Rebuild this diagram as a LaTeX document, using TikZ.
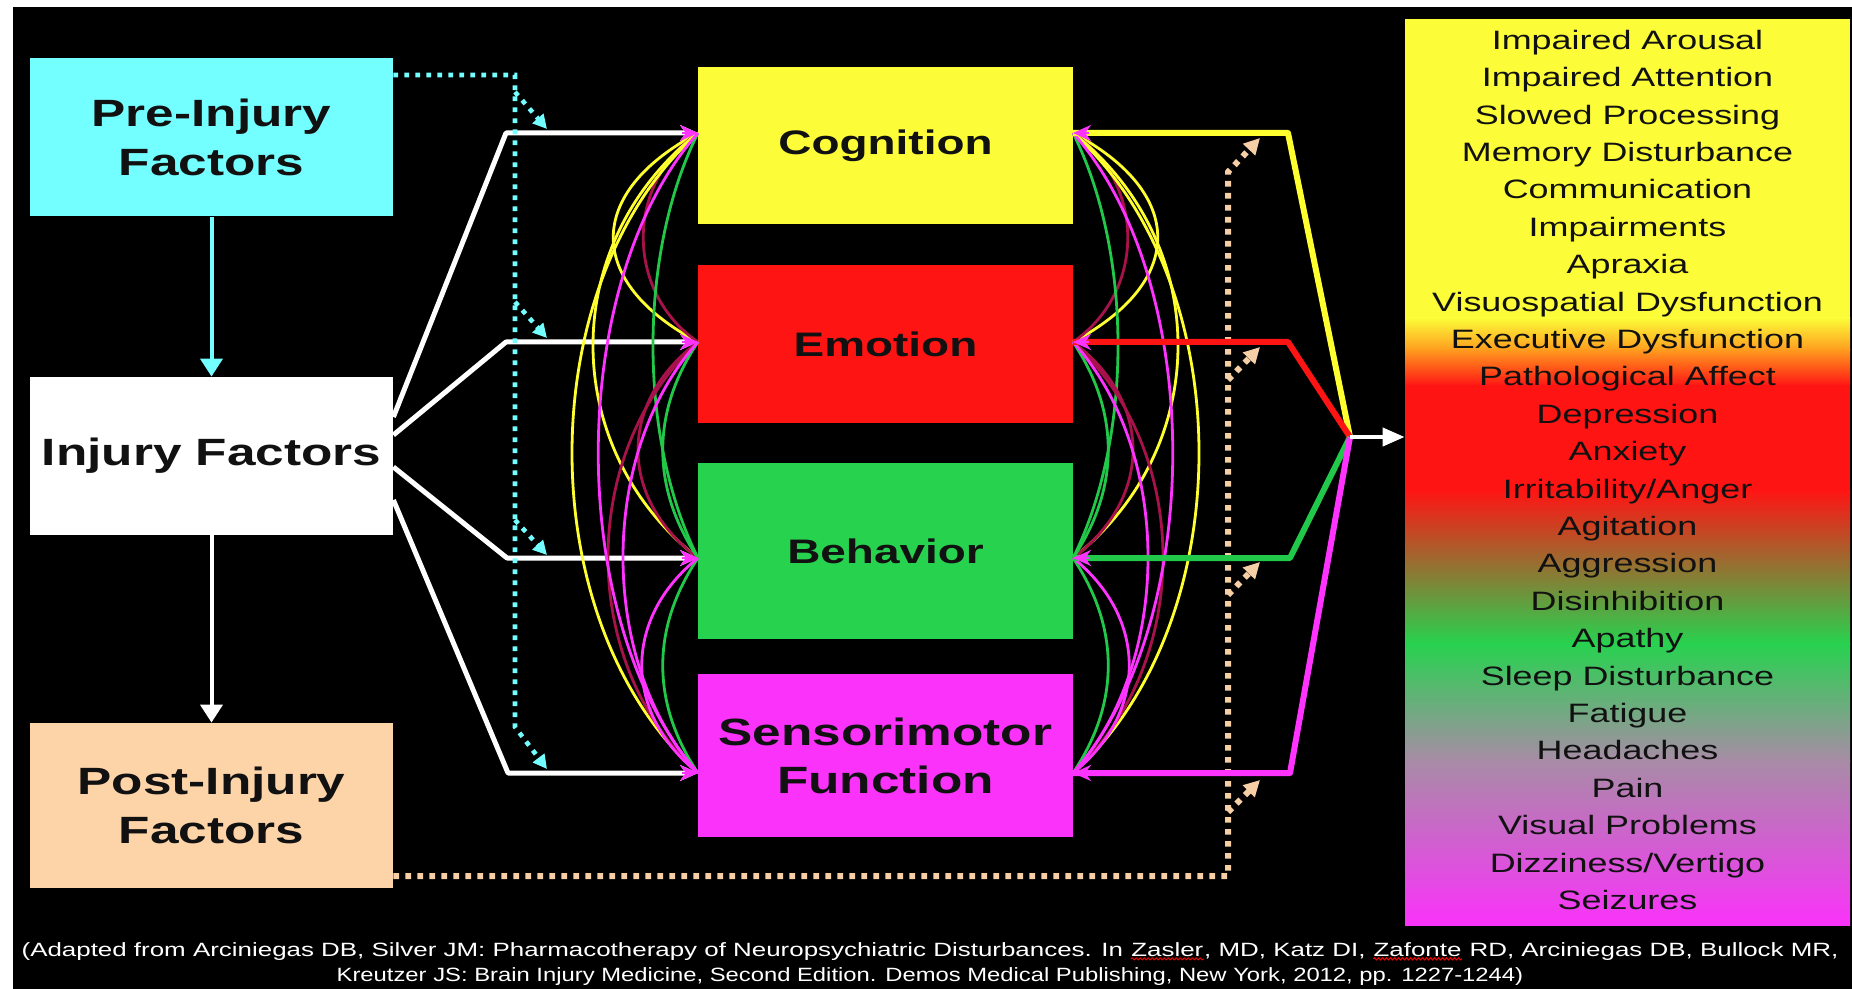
\documentclass[tikz,border=0pt]{standalone}
\usepackage{fontspec}
\usetikzlibrary{arrows.meta,calc,decorations.pathmorphing}
\newfontfamily\wfont{Liberation Sans}[FakeStretch=1.35]
\newfontfamily\wfontb{Liberation Sans}[FakeStretch=1.24]
\definecolor{cbox}{HTML}{73FEFF}
\definecolor{ybox}{HTML}{FCFC38}
\definecolor{rbox}{HTML}{FF1414}
\definecolor{gbox}{HTML}{27D24F}
\definecolor{mbox}{HTML}{FA32FA}
\definecolor{pbox}{HTML}{FDD3A8}
\definecolor{pline}{HTML}{F6CFA6}
\definecolor{cyl}{HTML}{FFFF30}
\definecolor{cgr}{HTML}{22C84A}
\definecolor{cmr}{HTML}{A8124A}
\definecolor{cmg}{HTML}{FF33FF}
\definecolor{txt}{HTML}{111111}
\definecolor{orng}{HTML}{FF9A1E}
\definecolor{mauve}{HTML}{A88CA6}
\newcommand\squig[1]{\tikz[baseline=(sqw.base)]{\node[inner sep=0pt, text=white] (sqw) {#1}; \draw[red, line width=0.5pt, decorate, decoration={snake, amplitude=0.5pt, segment length=2pt}] ([yshift=-1.2pt]sqw.base west) -- ([yshift=-1.2pt]sqw.base east);}}
\begin{document}
\begin{tikzpicture}[x=0.5pt,y=-0.5pt,
  box/.style={rectangle, inner sep=0pt, align=center, text=txt},
  bigf/.style={font=\wfont\bfseries\fontsize{19pt}{24.5pt}\selectfont},
  midf/.style={font=\wfont\bfseries\fontsize{17pt}{22pt}\selectfont},
  lbox/.style={box, bigf, minimum width=181.5pt},
  mbox/.style={box, minimum width=187.5pt},
  wl/.style={white, line width=2.5pt, line join=round, -{Stealth[length=9pt,width=8pt]}},
  cyd/.style={cbox, line width=2.3pt, dash pattern=on 2.4pt off 3.1pt, -{Triangle[length=7pt,width=7pt]}},
  pd/.style={pline, line width=3pt, dash pattern=on 2.8pt off 3.2pt, -{Triangle[length=8pt,width=8pt]}},
  cv/.style={line width=1.4pt},
  outl/.style={line width=3pt, line join=round},
  tipm/.style={cmg, line width=1.4pt, -{Stealth[length=9pt,width=8pt]}},
  symf/.style={font=\wfont\fontsize{13.3pt}{16pt}\selectfont, text=txt, anchor=base, inner sep=0pt}
]
\useasboundingbox (0,0) rectangle (1852,989);
\fill[white] (0,0) rectangle (1852,989);
\fill[black] (13,7) rectangle (1852,989);

% left boxes
\node[lbox, fill=cbox, minimum height=79pt] (pre) at (211.5,137.5) {Pre-Injury\\Factors};
\node[lbox, fill=white, minimum height=79pt] (inj) at (211.5,456) {Injury Factors};
\node[lbox, fill=pbox, minimum height=82.5pt] (post) at (211.5,805.5) {Post-Injury\\Factors};

% middle boxes
\node[mbox, midf, fill=ybox, minimum height=78.5pt] (cog) at (885.5,145.5) {Cognition};
\node[mbox, midf, fill=rbox, minimum height=79pt] (emo) at (885.5,344) {Emotion};
\node[mbox, midf, fill=gbox, minimum height=88pt] (beh) at (885.5,551) {Behavior};
\node[mbox, bigf, fill=mbox, minimum height=81.5pt, font=\wfont\bfseries\fontsize{19pt}{24pt}\selectfont] (sen) at (885.5,755.5) {Sensorimotor\\Function};

% connection points
\coordinate (cL) at (698,133); \coordinate (eL) at (698,342);
\coordinate (bL) at (698,558); \coordinate (sL) at (698,773);
\coordinate (cR) at (1073,133); \coordinate (eR) at (1073,342);
\coordinate (bR) at (1073,558); \coordinate (sR) at (1073,773);
\coordinate (jn) at (1350,437);

% symptom box gradient
\fill[ybox] (1405,19) rectangle (1850,319);
\fill[top color=ybox, bottom color=orng] (1405,318) rectangle (1850,351);
\fill[top color=orng, bottom color=rbox] (1405,350) rectangle (1850,386);
\fill[rbox] (1405,385) rectangle (1850,491);
\fill[top color=rbox, bottom color=gbox] (1405,490) rectangle (1850,644);
\fill[top color=gbox, bottom color=mauve] (1405,643) rectangle (1850,761);
\fill[top color=mauve, bottom color=mbox] (1405,760) rectangle (1850,925);
\node[rectangle, minimum width=222.5pt, minimum height=453pt, inner sep=0pt] (sym) at (1627.5,472) {};
\foreach \t [count=\i from 0] in {Impaired Arousal,Impaired Attention,Slowed Processing,Memory Disturbance,Communication,Impairments,Apraxia,Visuospatial Dysfunction,Executive Dysfunction,Pathological Affect,Depression,Anxiety,Irritability/Anger,Agitation,Aggression,Disinhibition,Apathy,Sleep Disturbance,Fatigue,Headaches,Pain,Visual Problems,Dizziness/Vertigo,Seizures}
  \node[symf] (s\i) at (1627.5,{49.3+37.4*\i}) {\t};

% vertical arrows on the left
\draw[cbox, line width=2pt, -{Triangle[length=9pt,width=11pt]}] (pre.south) -- (inj.north);
\draw[white, line width=2pt, -{Triangle[length=9pt,width=11pt]}] (inj.south) -- (post.north);

% white fan
\draw[wl] ($(inj.east)+(0,-39)$) -- (506,133) -- (cL);
\draw[wl] ($(inj.east)+(0,-21)$) -- (506,342) -- (eL);
\draw[wl] ($(inj.east)+(0,11)$) -- (507,558) -- (bL);
\draw[wl] ($(inj.east)+(0,44)$) -- (508,773) -- (sL);

% cyan dotted
\draw[cyd] ($(pre.east)+(0,-62.5)$) -- (515,75) -- (515,727) -- (547,769);
\draw[cyd] (515,92) -- (547,129);
\draw[cyd] (515,302) -- (547,338);
\draw[cyd] (515,520) -- (547,555);

% left interconnecting curves
\draw[cv, cyl] (cL) .. controls +(-113,60) and +(-113,-60) .. (eL);
\draw[cv, cmr] (cL) .. controls +(-73,50) and +(-73,-50) .. (eL);
\draw[cv, cyl] (cL) .. controls +(-140,110) and +(-140,-110) .. (bL);
\draw[cv, cgr] (cL) .. controls +(-60,120) and +(-60,-120) .. (bL);
\draw[cv, cyl] (cL) .. controls +(-168,150) and +(-168,-150) .. (sL);
\draw[cv, cmr] (eL) .. controls +(-80,60) and +(-80,-60) .. (bL);
\draw[cv, cgr] (eL) .. controls +(-47,70) and +(-47,-70) .. (bL);
\draw[cv, cmr] (eL) .. controls +(-120,110) and +(-120,-110) .. (sL);
\draw[cv, cgr] (bL) .. controls +(-47,70) and +(-47,-70) .. (sL);
\draw[cv, cmg] (cL) .. controls +(-133,150) and +(-133,-150) .. (sL);
\draw[cv, cmg] (eL) .. controls +(-100,110) and +(-100,-110) .. (sL);
\draw[cv, cmg] (bL) .. controls +(-75,60) and +(-75,-60) .. (sL);

% right interconnecting curves
\draw[cv, cyl] (cR) .. controls +(113,60) and +(113,-60) .. (eR);
\draw[cv, cmr] (cR) .. controls +(73,50) and +(73,-50) .. (eR);
\draw[cv, cyl] (cR) .. controls +(140,110) and +(140,-110) .. (bR);
\draw[cv, cgr] (cR) .. controls +(60,120) and +(60,-120) .. (bR);
\draw[cv, cyl] (cR) .. controls +(168,150) and +(168,-150) .. (sR);
\draw[cv, cmr] (eR) .. controls +(80,60) and +(80,-60) .. (bR);
\draw[cv, cgr] (eR) .. controls +(47,70) and +(47,-70) .. (bR);
\draw[cv, cmr] (eR) .. controls +(120,110) and +(120,-110) .. (sR);
\draw[cv, cgr] (bR) .. controls +(47,70) and +(47,-70) .. (sR);
\draw[cv, cmg] (cR) .. controls +(133,150) and +(133,-150) .. (sR);
\draw[cv, cmg] (eR) .. controls +(100,110) and +(100,-110) .. (sR);
\draw[cv, cmg] (bR) .. controls +(75,60) and +(75,-60) .. (sR);

% peach dotted
\draw[pd] ($(post.east)+(0,70.5)$) -- (1228,876) -- (1228,172) -- (1260,138);
\draw[pd] (1228,380) -- (1260,347);
\draw[pd] (1228,595) -- (1260,562);
\draw[pd] (1228,812) -- (1260,780);

% outputs
\draw[outl, cyl] (cR) -- (1288,133) -- (jn);
\draw[outl, rbox] (eR) -- (1288,342) -- (jn);
\draw[outl, cgr] (bR) -- (1290,558) -- (jn);
\draw[outl, cmg] (sR) -- (1290,773) -- (jn);
\draw[white, line width=2pt, -{Triangle[length=11pt,width=9pt]}] (jn) -- ($(sym.west)+(0,-35)$);

% magenta tips at the connection points
\foreach \p in {cL,eL,bL,sL} \draw[tipm] ($(\p)+(-16,0)$) -- (\p);
\foreach \p in {cR,eR,bR,sR} \draw[tipm] ($(\p)+(16,0)$) -- (\p);

% citation
\node[text=white, align=center, inner sep=0pt, font=\wfont\fontsize{9.6pt}{12.5pt}\selectfont] (cite) at (930,964)
  {(Adapted from Arciniegas DB, Silver JM: Pharmacotherapy of Neuropsychiatric Disturbances. In \squig{Zasler}, MD, Katz DI, \squig{Zafonte} RD, Arciniegas DB, Bullock MR,\\\wfontb\fontsize{9.6pt}{12.5pt}\selectfont Kreutzer JS: Brain Injury Medicine, Second Edition. Demos Medical Publishing, New York, 2012, pp. 1227-1244)};
\end{tikzpicture}
\end{document}
